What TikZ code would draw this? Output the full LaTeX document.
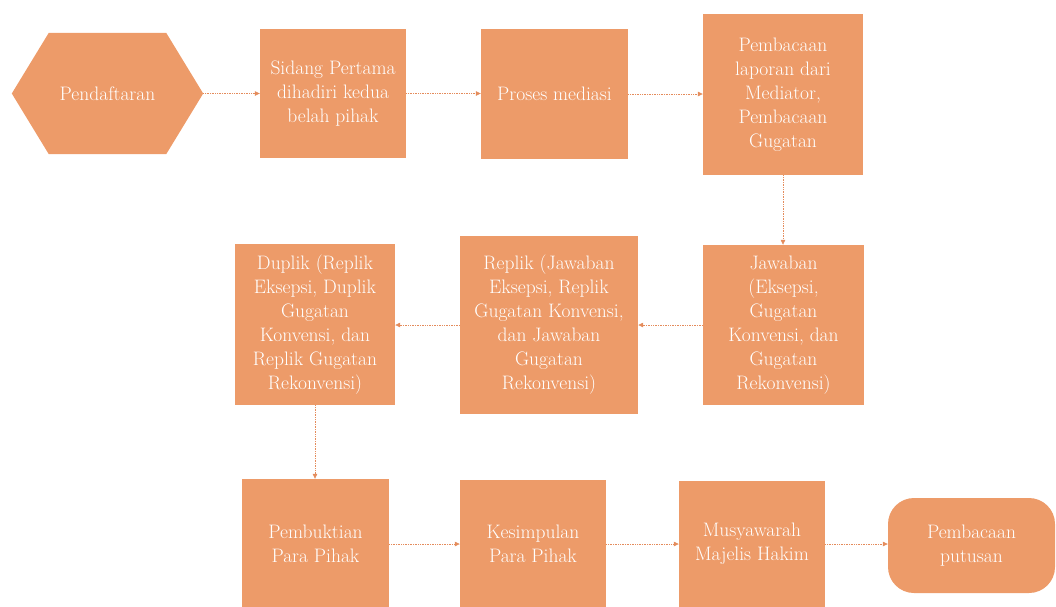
\documentclass[tikz,border=0pt]{standalone}
\usetikzlibrary{arrows.meta,backgrounds}
\definecolor{boxfill}{RGB}{237,155,105}
\definecolor{linecol}{RGB}{228,140,92}
\tikzset{
  box/.style={fill=boxfill, text=white, align=center, inner sep=0pt,
    font=\rmfamily\fontsize{19.5}{24}\selectfont},
  plain/.style={text=white, align=center, inner sep=0pt,
    font=\rmfamily\fontsize{19.5}{24}\selectfont},
  conn/.style={draw=linecol, line width=0.7pt, densely dotted,
    -{Triangle[length=5pt,width=4.5pt,fill=linecol]}}
}
\begin{document}
\begin{tikzpicture}[x=1pt,y=-1pt]
\useasboundingbox (0,0) rectangle (1056,606);
\clip (0,0) rectangle (1056,606);
% row 1
\node[plain, minimum width=191pt, minimum height=121pt] (pend) at (107.5,93.5) {Pendaftaran};
\begin{scope}[on background layer]
\fill[boxfill] (pend.west) -- ([xshift=37pt]pend.north west) -- ([xshift=-37pt]pend.north east)
  -- (pend.east) -- ([xshift=-37pt]pend.south east) -- ([xshift=37pt]pend.south west) -- cycle;
\end{scope}
\node[box, minimum width=146pt, minimum height=129pt] (sid) at (333,93.5) {Sidang Pertama\\dihadiri kedua\\belah pihak};
\node[box, minimum width=147pt, minimum height=130pt] (pro) at (554.5,94) {Proses mediasi};
\node[box, minimum width=160pt, minimum height=161pt] (lap) at (783,94.5) {Pembacaan\\laporan dari\\Mediator,\\Pembacaan\\Gugatan};
% row 2
\node[box, minimum width=161pt, minimum height=160pt] (jaw) at (783.5,325) {Jawaban\\(Eksepsi,\\Gugatan\\Konvensi, dan\\Gugatan\\Rekonvensi)};
\node[box, minimum width=178pt, minimum height=178pt] (rep) at (549,325) {Replik (Jawaban\\Eksepsi, Replik\\Gugatan Konvensi,\\dan Jawaban\\Gugatan\\Rekonvensi)};
\node[box, minimum width=160pt, minimum height=161pt] (dup) at (315,324.5) {Duplik (Replik\\Eksepsi, Duplik\\Gugatan\\Konvensi, dan\\Replik Gugatan\\Rekonvensi)};
% row 3
\node[box, minimum width=147pt, minimum height=130pt] (bukti) at (315.5,544) {Pembuktian\\Para Pihak};
\node[box, minimum width=146pt, minimum height=128pt] (kes) at (533,544) {Kesimpulan\\Para Pihak};
\node[box, minimum width=146pt, minimum height=126pt] (mus) at (752,544) {Musyawarah\\Majelis Hakim};
\node[box, rounded corners=26pt, minimum width=167pt, minimum height=95pt] (put) at (971.5,545.5) {Pembacaan\\putusan};
% connectors
\draw[conn] (pend.east) -- (sid.west);
\draw[conn] (sid.east) -- (sid.east -| pro.west);
\draw[conn] (pro.east) -- (pro.east -| lap.west);
\draw[conn] (lap.south) -- (lap.south |- jaw.north);
\draw[conn] (jaw.west) -- (jaw.west -| rep.east);
\draw[conn] (rep.west) -- (rep.west -| dup.east);
\draw[conn] (dup.south) -- (dup.south |- bukti.north);
\draw[conn] (bukti.east) -- (bukti.east -| kes.west);
\draw[conn] (kes.east) -- (kes.east -| mus.west);
\draw[conn] (mus.east) -- (mus.east -| put.west);
\end{tikzpicture}
\end{document}
